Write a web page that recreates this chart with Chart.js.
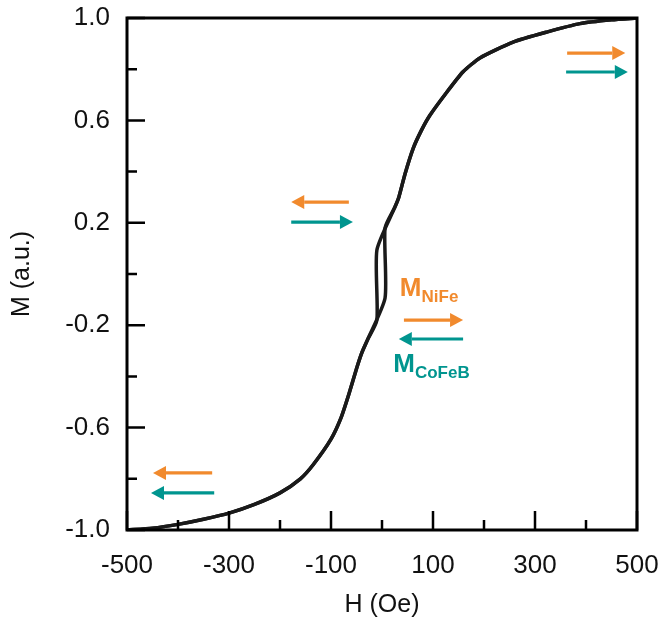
<!DOCTYPE html>
<html>
<head>
<meta charset="utf-8">
<script src="https://cdn.jsdelivr.net/npm/chart.js@4.4.1/dist/chart.umd.min.js"></script>
<style>
  body { margin: 0; background: #fff; }
  canvas { display: block; }
</style>
</head>
<body>
<canvas id="loopChart" width="667" height="626"></canvas>
<script>
// ascending branch (H increasing)
var upH = [-500, -450, -400, -350, -300, -250, -200, -160, -135, -100, -80, -65, -50, -40, -29, 6, 6, 25, 33, 45, 61, 77, 94, 127, 159, 192, 257, 323, 388, 450, 500];
var upM = [-1.0, -0.993, -0.978, -0.958, -0.934, -0.90, -0.855, -0.80, -0.745, -0.645, -0.56, -0.47, -0.37, -0.31, -0.26, -0.094, 0.18, 0.26, 0.30, 0.39, 0.49, 0.56, 0.62, 0.71, 0.79, 0.844, 0.906, 0.945, 0.978, 0.993, 1.0];
// descending branch (H decreasing)
var downH = [500, 450, 388, 323, 257, 192, 159, 127, 94, 77, 61, 45, 33, 25, -10, -10, -29, -40, -50, -65, -80, -100, -135, -160, -200, -250, -300, -350, -400, -450, -500];
var downM = [1.0, 0.993, 0.978, 0.945, 0.906, 0.844, 0.79, 0.71, 0.62, 0.56, 0.49, 0.39, 0.30, 0.26, 0.094, -0.18, -0.26, -0.31, -0.37, -0.47, -0.56, -0.645, -0.745, -0.80, -0.855, -0.90, -0.934, -0.958, -0.978, -0.993, -1.0];

var xTicks = [-500, -300, -100, 100, 300, 500];
var xMinor = [-400, -200, 0, 200, 400];
var yTicks = [-1.0, -0.6, -0.2, 0.2, 0.6, 1.0];
var yMinor = [-0.8, -0.4, 0, 0.4, 0.8];

// arrows: [tailH, tipH, M]
var orangeArrows = [[363, 477, 0.863], [-65, -178, 0.281], [43, 159, -0.18], [-333, -449, -0.777]];
var tealArrows = [[361, 482, 0.789], [-178, -57, 0.203], [159, 33, -0.254], [-329, -453, -0.855]];
var labelText = ['M', 'M'];
var labelSub = ['NiFe', 'CoFeB'];
var labelH = [35, 22];
var labelM = [-0.086, -0.383];

var ORANGE = '#f18a2d';
var TEAL = '#00958f';
var FONT = '"Liberation Sans", Arial, sans-serif';

function toPoints(hs, ms) {
    return hs.map(function(h, i) { return { x: h, y: ms[i] }; });
}

function drawArrow(ctx, x1, x2, y, color) {
    var dir = x2 > x1 ? 1 : -1;
    var head = 13;
    ctx.strokeStyle = color;
    ctx.fillStyle = color;
    ctx.lineWidth = 3.2;
    ctx.beginPath();
    ctx.moveTo(x1, y);
    ctx.lineTo(x2 - dir * head, y);
    ctx.stroke();
    ctx.beginPath();
    ctx.moveTo(x2, y);
    ctx.lineTo(x2 - dir * head, y - 7);
    ctx.lineTo(x2 - dir * head, y + 7);
    ctx.closePath();
    ctx.fill();
}

var framePlugin = {
    id: 'frame',
    afterDraw: function(chart) {
        var ctx = chart.ctx;
        var a = chart.chartArea;
        var xs = chart.scales.x, ys = chart.scales.y;
        ctx.save();
        ctx.strokeStyle = '#000';
        ctx.lineWidth = 3;
        ctx.strokeRect(a.left, a.top, a.right - a.left, a.bottom - a.top);
        // inward ticks
        ctx.lineWidth = 2.5;
        ctx.beginPath();
        xTicks.forEach(function(v) { var p = xs.getPixelForValue(v); ctx.moveTo(p, a.bottom); ctx.lineTo(p, a.bottom - 19); });
        xMinor.forEach(function(v) { var p = xs.getPixelForValue(v); ctx.moveTo(p, a.bottom); ctx.lineTo(p, a.bottom - 10); });
        yTicks.forEach(function(v) { var p = ys.getPixelForValue(v); ctx.moveTo(a.left, p); ctx.lineTo(a.left + 18, p); });
        yMinor.forEach(function(v) { var p = ys.getPixelForValue(v); ctx.moveTo(a.left, p); ctx.lineTo(a.left + 10, p); });
        ctx.stroke();

        orangeArrows.forEach(function(r) {
            drawArrow(ctx, xs.getPixelForValue(r[0]), xs.getPixelForValue(r[1]), ys.getPixelForValue(r[2]), ORANGE);
        });
        tealArrows.forEach(function(r) {
            drawArrow(ctx, xs.getPixelForValue(r[0]), xs.getPixelForValue(r[1]), ys.getPixelForValue(r[2]), TEAL);
        });

        ctx.textBaseline = 'alphabetic';
        ctx.textAlign = 'left';
        labelText.forEach(function(t, i) {
            var px = xs.getPixelForValue(labelH[i]);
            var py = ys.getPixelForValue(labelM[i]);
            ctx.fillStyle = i === 0 ? ORANGE : TEAL;
            ctx.font = 'bold 26px ' + FONT;
            ctx.fillText(t, px, py);
            var w = ctx.measureText(t).width;
            ctx.font = 'bold 17px ' + FONT;
            ctx.fillText(labelSub[i], px + w, py + 6);
        });
        ctx.restore();
    }
};

var ctx = document.getElementById('loopChart');
new Chart(ctx, {
    type: 'scatter',
    data: {
        datasets: [{
            data: toPoints(upH, upM),
            showLine: true,
            borderColor: '#1a1a1a',
            borderWidth: 3.5,
            pointRadius: 0,
            tension: 0.2
        }, {
            data: toPoints(downH, downM),
            showLine: true,
            borderColor: '#1a1a1a',
            borderWidth: 3.5,
            pointRadius: 0,
            tension: 0.2
        }]
    },
    options: {
        responsive: false,
        animation: false,
        layout: { padding: { left: 0, top: 18, right: 30, bottom: 0 } },
        plugins: { legend: { display: false }, tooltip: { enabled: false } },
        scales: {
            x: {
                type: 'linear',
                min: -500,
                max: 500,
                grid: { display: false, drawTicks: false },
                border: { display: false },
                ticks: {
                    stepSize: 200,
                    padding: 20,
                    color: '#111',
                    font: { family: FONT, size: 26 },
                    callback: function(v) { return xTicks.indexOf(v) >= 0 ? String(v) : ''; }
                },
                title: {
                    display: true,
                    text: 'H (Oe)',
                    color: '#111',
                    padding: { top: 0, bottom: 6 },
                    font: { family: FONT, size: 25 }
                },
                afterFit: function(scale) {
                    scale.height = 96;
                    scale.paddingLeft = 0;
                    scale.paddingRight = 0;
                }
            },
            y: {
                type: 'linear',
                min: -1,
                max: 1,
                grid: { display: false, drawTicks: false },
                border: { display: false },
                ticks: {
                    stepSize: 0.4,
                    padding: 17,
                    color: '#111',
                    font: { family: FONT, size: 26 },
                    callback: function(v) { return Number(v).toFixed(1); }
                },
                title: {
                    display: true,
                    text: 'M (a.u.)',
                    color: '#111',
                    padding: { top: 7, bottom: 0 },
                    font: { family: FONT, size: 25 }
                },
                afterFit: function(scale) {
                    scale.width = 127;
                    scale.paddingTop = 0;
                    scale.paddingBottom = 0;
                }
            }
        }
    },
    plugins: [framePlugin]
});
</script>
</body>
</html>
